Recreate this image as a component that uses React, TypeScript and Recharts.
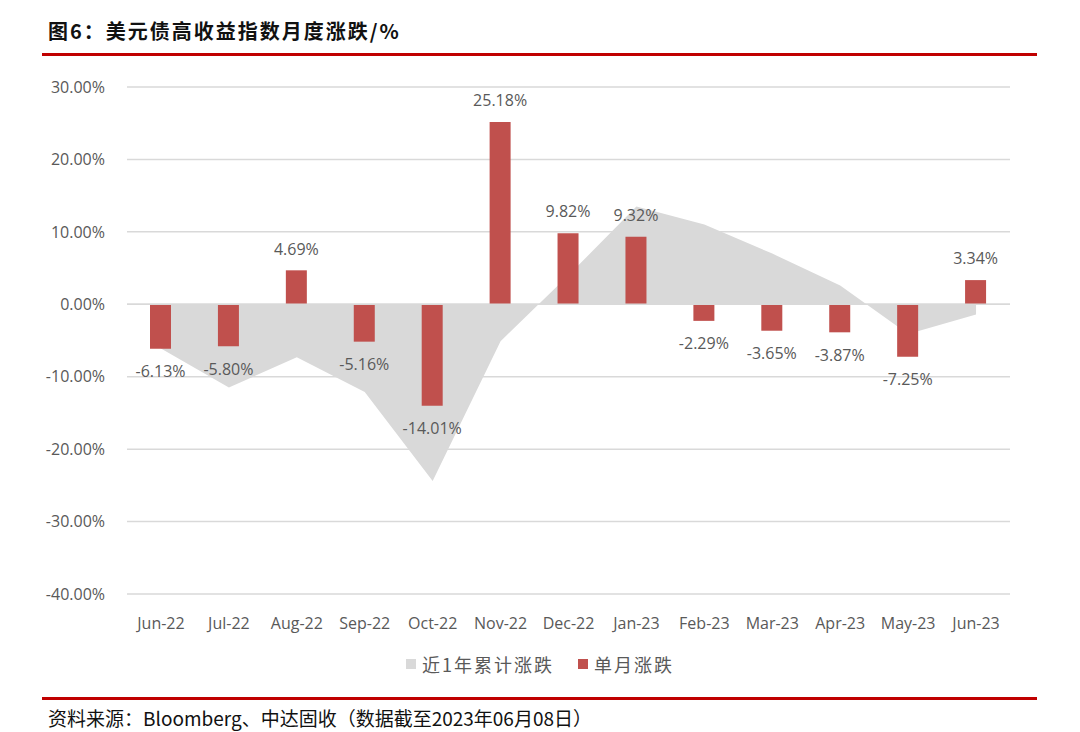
import {
  ComposedChart,
  Bar,
  Area,
  XAxis,
  YAxis,
  CartesianGrid,
  ReferenceLine,
  LabelList,
} from "recharts";

const months = [
  "Jun-22", "Jul-22", "Aug-22", "Sep-22", "Oct-22", "Nov-22", "Dec-22",
  "Jan-23", "Feb-23", "Mar-23", "Apr-23", "May-23", "Jun-23",
];
// 单月涨跌 (%)
const monthly = [-6.13, -5.8, 4.69, -5.16, -14.01, 25.18, 9.82, 9.32, -2.29, -3.65, -3.87, -7.25, 3.34];
// 近1年累计涨跌 (%), read from the gray area
const cumulative = [-6.1, -11.5, -7.3, -12.1, -24.4, -5.1, 4.0, 13.5, 11.0, 7.0, 2.6, -4.1, -1.4];
const yTicks = [-40, -30, -20, -10, 0, 10, 20, 30];

const data = months.map((m, i) => ({ month: m, monthly: monthly[i], cumulative: cumulative[i] }));

const RED = "#c0504d";
const GRAY = "#d9d9d9";
const TEXT = "#595959";
const FONT = "'Open Sans', 'Noto Sans CJK SC', sans-serif";

function BarValue(props: any) {
  const { x, y, width, height, value } = props;
  const neg = value < 0;
  const cx = x + width / 2;
  const top = Math.min(y, y + height);
  const bottom = Math.max(y, y + height);
  const ly = neg ? bottom + 24 : top - 20;
  return (
    <text x={cx} y={ly} textAnchor="middle" dominantBaseline="middle" fontSize={16} fill={TEXT} fontFamily={FONT}>
      {value.toFixed(2)}%
    </text>
  );
}

export default function App() {
  return (
    <div style={{ position: "fixed", left: 0, top: 0, width: 1080, height: 732, background: "#fff", fontFamily: FONT }}>
      <div style={{ position: "absolute", left: 48, top: 16, fontSize: 20, fontWeight: 700, color: "#111", fontFamily: "'Noto Sans CJK SC', sans-serif", letterSpacing: 2 }}>
        图6：美元债高收益指数月度涨跌/%
      </div>
      <div style={{ position: "absolute", left: 42, top: 53, width: 995, height: 3, background: "#c00000" }} />

      <div style={{ position: "absolute", left: 0, top: 0 }}>
        <ComposedChart width={1080} height={640} data={data} margin={{ top: 87, right: 70, bottom: 6, left: 0 }}>
          <CartesianGrid horizontal vertical={false} stroke={GRAY} strokeWidth={1.5} />
          <XAxis
            dataKey="month"
            axisLine={false}
            tickLine={false}
            height={40}
            tickMargin={18}
            tick={{ fontSize: 16, fill: TEXT, fontFamily: FONT }}
            interval={0}
          />
          <YAxis
            type="number"
            domain={[-40, 30]}
            ticks={yTicks}
            width={127}
            axisLine={false}
            tickLine={false}
            tickMargin={16}
            tickFormatter={(v) => `${Number(v).toFixed(2)}%`}
            tick={{ fontSize: 16, fill: TEXT, fontFamily: FONT }}
          />
          <Area
            dataKey="cumulative"
            type="linear"
            fill={GRAY}
            fillOpacity={1}
            stroke="none"
            isAnimationActive={false}
          />
          <ReferenceLine y={0} stroke={GRAY} strokeWidth={1.5} />
          <Bar dataKey="monthly" fill={RED} barSize={21} isAnimationActive={false}>
            <LabelList dataKey="monthly" content={<BarValue />} />
          </Bar>
        </ComposedChart>
      </div>

      <div style={{ position: "absolute", left: 0, width: 1080, top: 651, display: "flex", justifyContent: "center", alignItems: "center", fontSize: 18, color: TEXT, fontFamily: "'Noto Sans CJK SC', sans-serif" }}>
        <span style={{ display: "inline-block", width: 10, height: 10, background: GRAY, marginRight: 6 }} />
        <span style={{ letterSpacing: 2 }}>近1年累计涨跌</span>
        <span style={{ display: "inline-block", width: 10, height: 10, background: RED, marginLeft: 24, marginRight: 6 }} />
        <span style={{ letterSpacing: 2 }}>单月涨跌</span>
      </div>

      <div style={{ position: "absolute", left: 42, top: 697, width: 995, height: 3, background: "#c00000" }} />
      <div style={{ position: "absolute", left: 48, top: 704, fontSize: 19, color: "#111", fontFamily: "'Noto Sans CJK SC', sans-serif" }}>
        资料来源：Bloomberg、中达固收（数据截至2023年06月08日）
      </div>
    </div>
  );
}
